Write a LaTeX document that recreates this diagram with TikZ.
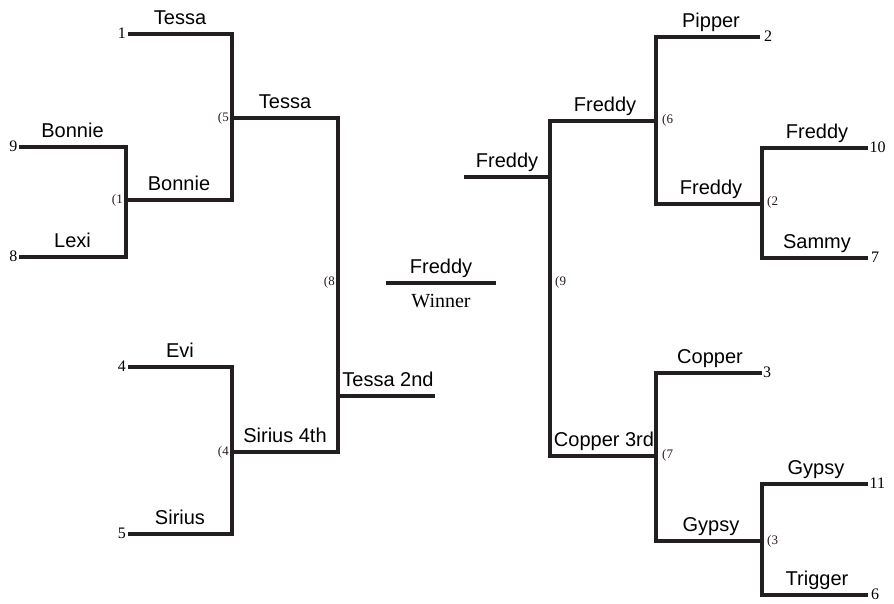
\documentclass[tikz,border=0pt]{standalone}
\usepackage{fontspec}
\setmainfont{Liberation Serif}
\setsansfont{Liberation Sans}
\usepackage{xcolor}
\usepackage{tikz}
\usetikzlibrary{calc}
\definecolor{cInk}{HTML}{231F20}
\definecolor{cNum}{HTML}{2A1A1A}
\tikzset{
  bline/.style={draw=cInk,line width=4pt},
  who/.style={font=\fontsize{20}{24}\sffamily,text=black,anchor=base,inner sep=0pt},
  seed/.style={font=\fontsize{16}{18}\rmfamily,text=black,inner sep=0pt},
  game/.style={font=\fontsize{13}{15}\rmfamily,text=cNum,inner sep=0pt},
}

\begin{document}
\begin{tikzpicture}[x=1pt,y=-1pt]
        \useasboundingbox (0,0) rectangle (894,604);
        % left half, upper
        \coordinate (s1) at (128,34);  \coordinate (s9) at (19,147);  \coordinate (s8) at (19,257);
        \coordinate (m1) at (126,200); \coordinate (m5) at (232,118);
        \draw[bline] (s9) -| (m1) |- (s8);
        \draw[bline] (s1) -| (m5) |- (m1);
        % left half, lower
        \coordinate (s4) at (128,367); \coordinate (s5) at (128,534); \coordinate (m4) at (232,452);
        \draw[bline] (s4) -| (m4) |- (s5);
        % left final
        \coordinate (m8) at (338,396); \coordinate (second) at (435,396);
        \draw[bline] (m5) -| (m8) |- (m4);
        \draw[bline] (m8) -- (second);
        % winner
        \coordinate (w1) at (386,283); \coordinate (w2) at (496,283);
        \draw[bline,line width=3.5pt] (w1) -- (w2);
        % right half, upper
        \coordinate (s2) at (760,37);  \coordinate (s10) at (868,148); \coordinate (s7) at (868,258);
        \coordinate (m2) at (762,204); \coordinate (m6) at (656,121);
        \draw[bline] (s10) -| (m2) |- (s7);
        \draw[bline] (s2) -| (m6) |- (m2);
        % right half, lower
        \coordinate (s3) at (762,373); \coordinate (s11) at (868,484); \coordinate (s6) at (868,595);
        \coordinate (m3) at (762,541); \coordinate (m7) at (656,456);
        \draw[bline] (s11) -| (m3) |- (s6);
        \draw[bline] (s3) -| (m7) |- (m3);
        % right final
        \coordinate (m9) at (550,177); \coordinate (fin) at (464,177);
        \draw[bline] (m6) -| (m9) |- (m7);
        \draw[bline] (fin) -- (m9);
        % names
        \node[who] (nTessaA) at (180,24.5) {Tessa};
        \node[who] (nBonnieA) at (72.5,137.5) {Bonnie};
        \node[who] (nLexi) at (72.5,247.5) {Lexi};
        \node[who] (nBonnieB) at (179,190.5) {Bonnie};
        \node[who] (nTessaB) at (285,108.5) {Tessa};
        \node[who] (nEvi) at (180,357.5) {Evi};
        \node[who] (nSirius) at (180,524.5) {Sirius};
        \node[who] (nSiriusB) at (285,442.5) {Sirius 4th};
        \node[who] (nTessaC) at (388,386.5) {Tessa 2nd};
        \node[who] (nWin) at (441,273.5) {Freddy};
        \node[font=\fontsize{20}{24}\rmfamily,anchor=base,inner sep=0pt] (nWinner) at (441,307) {Winner};
        \node[who] (nFreddyA) at (507,167.5) {Freddy};
        \node[who] (nFreddyB) at (605,111.5) {Freddy};
        \node[who] (nPipper) at (711,27.5) {Pipper};
        \node[who] (nFreddyC) at (711,194.5) {Freddy};
        \node[who] (nFreddyD) at (817,138.5) {Freddy};
        \node[who] (nSammy) at (817,248.5) {Sammy};
        \node[who] (nCopperB) at (604,446.5) {Copper 3rd};
        \node[who] (nCopper) at (710,363.5) {Copper};
        \node[who] (nGypsyB) at (711,531.5) {Gypsy};
        \node[who] (nGypsy) at (816,474.5) {Gypsy};
        \node[who] (nTrigger) at (817,585.5) {Trigger};
        % seeds
        \foreach \n/\x/\y in {1/126/38.5, 9/17.5/151.5, 8/17.5/261.5, 4/126/371.5, 5/126/538.5}{
          \node[seed,anchor=base east] (seed\n) at (\x,\y) {\n};}
        \foreach \n/\x/\y in {2/764/41.5, 10/869.5/152.5, 7/871/262.5, 3/763/377.5, 11/869.5/488.5, 6/871/599.5}{
          \node[seed,anchor=base west] (seed\n) at (\x,\y) {\n};}
        % game numbers
        \foreach \n/\x/\y in {1/123/200, 5/229/118, 4/229/452, 8/335/282}{
          \node[game,anchor=east] (game\n) at (\x,\y) {(\n};}
        \foreach \n/\x/\y in {9/555/282, 6/662/120, 2/767/202, 7/662/455, 3/767/541}{
          \node[game,anchor=west] (game\n) at (\x,\y) {(\n};}
      \end{tikzpicture}
\end{document}
